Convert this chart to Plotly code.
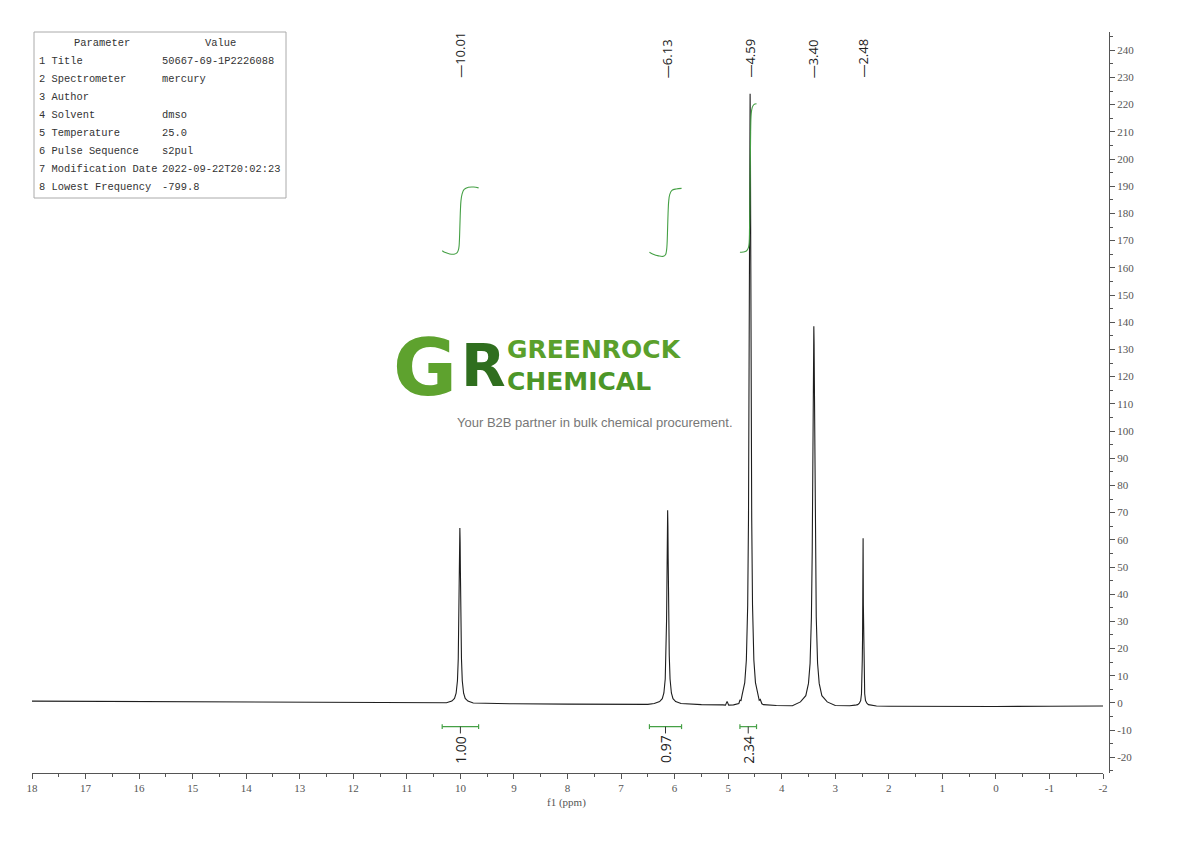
import plotly.graph_objects as go

# ---------------- data ----------------
ppm = [18.0, 17.0, 16.0, 15.0, 14.0, 13.0, 12.0, 11.0, 10.6,
       # 10.01
       10.26, 10.16, 10.11, 10.08, 10.055, 10.04, 10.03, 10.025, 10.02, 10.015, 10.01,
       10.005, 10.00, 9.995, 9.99, 9.98, 9.965, 9.94, 9.91, 9.86, 9.76,
       9.0, 8.0, 7.0, 6.5,
       # 6.13
       6.38, 6.28, 6.23, 6.20, 6.175, 6.16, 6.15, 6.145, 6.14, 6.135, 6.13,
       6.125, 6.12, 6.115, 6.11, 6.10, 6.085, 6.06, 6.03, 5.98, 5.88,
       5.5, 5.1, 5.05, 5.02, 4.99, 4.90,
       # 4.59
       4.84, 4.80, 4.78, 4.76, 4.74, 4.69, 4.66, 4.635, 4.62, 4.61, 4.605, 4.60, 4.595, 4.59,
       4.585, 4.58, 4.575, 4.57, 4.56, 4.545, 4.52, 4.49, 4.44, 4.42, 4.40, 4.37, 4.34,
       4.1,
       # 3.40
       3.80, 3.65, 3.55, 3.50, 3.47, 3.445, 3.43, 3.42, 3.415, 3.41, 3.405, 3.40,
       3.395, 3.39, 3.385, 3.38, 3.37, 3.355, 3.33, 3.30, 3.25, 3.15, 3.00,
       2.80,
       # 2.48
       2.73, 2.63, 2.58, 2.55, 2.525, 2.51, 2.50, 2.495, 2.49, 2.485, 2.48,
       2.475, 2.47, 2.465, 2.46, 2.45, 2.435, 2.41, 2.38, 2.33, 2.23,
       2.0, 1.0, 0.0, -1.0, -2.0]

intensity = [0.7, 0.6, 0.5, 0.4, 0.3, 0.2, 0.1, 0.0, -0.1,
             0.1, 0.7, 1.7, 3.6, 8.2, 16.3, 27.9, 37.0, 48.5, 59.5, 64.3,
             59.5, 48.5, 37.0, 27.9, 16.3, 8.2, 3.6, 1.7, 0.7, 0.0,
             -0.3, -0.4, -0.5, -0.5,
             -0.2, 0.5, 1.6, 3.7, 8.8, 17.6, 30.4, 40.4, 53.1, 65.2, 70.9,
             65.2, 53.1, 40.4, 30.4, 17.6, 8.8, 3.7, 1.6, 0.5, -0.2,
             -0.6, -0.7, -0.8, 0.6, -0.8, -0.7,
             -0.5, -0.2, 1.0, 0.9, 2.9, 7.5, 15.8, 36.0, 68.0, 111.0, 142.0, 178.0, 210.0, 224.0,
             210.0, 178.0, 142.0, 111.0, 68.0, 36.0, 15.8, 7.5, 2.7, 1.0, 1.3, -0.3, -0.6,
             -0.9,
             -1.0, 0.4, 2.7, 7.2, 14.6, 31.7, 55.8, 83.5, 100.8, 118.4, 132.2, 138.5,
             132.2, 118.4, 100.8, 83.5, 55.8, 31.7, 14.6, 7.2, 2.7, 0.4, -0.9,
             -1.0,
             -1.0, -0.8, -0.6, -0.1, 0.9, 3.4, 8.0, 16.0, 23.8, 36.0, 60.6,
             36.0, 23.8, 16.0, 8.0, 3.4, 0.9, -0.1, -0.6, -0.8, -1.1,
             -1.2, -1.3, -1.3, -1.2, -1.1]

peak_ppm = [10.01, 6.13, 4.59, 3.40, 2.48]
peak_labels = ["10.01", "6.13", "4.59", "3.40", "2.48"]

int_from = [10.34, 6.47, 4.78]
int_to = [9.66, 5.87, 4.47]
int_values = ["1.00", "0.97", "2.34"]

int1_ppm = [10.34, 10.28, 10.20, 10.12, 10.06, 10.03, 10.02, 10.01, 10.00, 9.99, 9.97, 9.93, 9.85, 9.75, 9.66]
int1_val = [166.3, 165.6, 165.1, 165.0, 165.6, 167.2, 169.5, 175.0, 181.0, 184.5, 187.0, 188.8, 189.6, 189.7, 189.4]
int2_ppm = [6.47, 6.40, 6.30, 6.22, 6.17, 6.15, 6.14, 6.13, 6.12, 6.11, 6.09, 6.05, 5.97, 5.87]
int2_val = [165.7, 165.0, 164.4, 164.2, 164.8, 166.5, 169.0, 175.0, 181.0, 184.5, 187.0, 188.5, 189.0, 189.2]
int3_ppm = [4.78, 4.72, 4.66, 4.62, 4.60, 4.59, 4.58, 4.57, 4.55, 4.52, 4.47]
int3_val = [165.7, 165.8, 166.2, 167.5, 175.0, 192.0, 210.0, 216.5, 219.0, 220.0, 220.3]

param_names = ["Title", "Spectrometer", "Author", "Solvent", "Temperature",
               "Pulse Sequence", "Modification Date", "Lowest Frequency"]
param_values = ["50667-69-1P2226088", "mercury", "", "dmso", "25.0",
                "s2pul", "2022-09-22T20:02:23", "-799.8"]

x_tick_vals = [18, 17, 16, 15, 14, 13, 12, 11, 10, 9, 8, 7, 6, 5, 4, 3, 2, 1, 0, -1, -2]
x_tick_text = ["18", "17", "16", "15", "14", "13", "12", "11", "10", "9", "8", "7", "6",
               "5", "4", "3", "2", "1", "0", "-1", "-2"]
y_tick_vals = [-20, -10, 0, 10, 20, 30, 40, 50, 60, 70, 80, 90, 100, 110, 120, 130,
               140, 150, 160, 170, 180, 190, 200, 210, 220, 230, 240]
y_tick_text = ["-20", "-10", "0", "10", "20", "30", "40", "50", "60", "70", "80", "90",
               "100", "110", "120", "130", "140", "150", "160", "170", "180", "190",
               "200", "210", "220", "230", "240"]

# ---------------- styling ----------------
OFF = 8                      # page body margin
W, H = 1182, 833
ML, MR, MT, MB = 24, 81, 24, 68
PW, PH = W - ML - MR, H - MT - MB
AX = "#555555"
GREEN = "#45a045"
SERIF = "Liberation Serif"
MONO = "Liberation Mono"
SANS = "Open Sans"


def pxx(p):
    return (p - OFF - ML) / PW


def pxy(p):
    return (H - MB - (p - OFF)) / PH


fig = go.Figure()

fig.add_trace(go.Scatter(x=ppm, y=intensity, mode="lines",
                         line=dict(color="#1e1e1e", width=1.1), hoverinfo="skip",
                         showlegend=False))

for xs, ys in [(int1_ppm, int1_val), (int2_ppm, int2_val), (int3_ppm, int3_val)]:
    fig.add_trace(go.Scatter(x=xs, y=ys, mode="lines", line=dict(color=GREEN, width=1.1, shape="spline"),
                             hoverinfo="skip", showlegend=False))

# integral bars
bar_y = -8.7
cap = 0.9
for a, b, lab in zip(int_from, int_to, int_values):
    mid = (a + b) / 2
    fig.add_trace(go.Scatter(x=[a, b], y=[bar_y, bar_y], mode="lines",
                             line=dict(color=GREEN, width=1.2), hoverinfo="skip", showlegend=False))
    for e in (a, b):
        fig.add_trace(go.Scatter(x=[e, e], y=[bar_y - cap, bar_y + cap], mode="lines",
                                 line=dict(color=GREEN, width=1.2), hoverinfo="skip", showlegend=False))
    fig.add_trace(go.Scatter(x=[mid, mid], y=[bar_y, bar_y - 2.5], mode="lines",
                             line=dict(color="#333333", width=1), hoverinfo="skip", showlegend=False))
    fig.add_annotation(x=mid, y=bar_y - 2.5, xref="x", yref="y", text=lab, textangle=-90,
                       showarrow=False, xanchor="center", yanchor="top",
                       font=dict(family=SANS, size=14, color="#222222"))

# peak labels
for p, lab in zip(peak_ppm, peak_labels):
    fig.add_annotation(x=p, y=pxy(80), xref="x", yref="paper", text="\u2014" + lab, textangle=-90,
                       showarrow=False, xanchor="center", yanchor="bottom",
                       font=dict(family=SANS, size=13, color="#222222"))

# parameter table
fig.add_shape(type="rect", xref="paper", yref="paper",
              x0=pxx(34), x1=pxx(286), y0=pxy(198), y1=pxy(32),
              line=dict(color="#aaaaaa", width=1), fillcolor="rgba(0,0,0,0)")
tfont = dict(family=MONO, size=10.4, color="#333333")
fig.add_annotation(x=pxx(102), y=pxy(43), xref="paper", yref="paper", text="Parameter",
                   showarrow=False, xanchor="center", yanchor="middle", font=tfont)
fig.add_annotation(x=pxx(220), y=pxy(43), xref="paper", yref="paper", text="Value",
                   showarrow=False, xanchor="center", yanchor="middle", font=tfont)
for i, (n, v) in enumerate(zip(param_names, param_values)):
    yy = pxy(61 + 18 * i)
    fig.add_annotation(x=pxx(37), y=yy, xref="paper", yref="paper", text=f"{i + 1} {n}",
                       showarrow=False, xanchor="left", yanchor="middle", font=tfont)
    if v:
        fig.add_annotation(x=pxx(160), y=yy, xref="paper", yref="paper", text=v,
                           showarrow=False, xanchor="left", yanchor="middle", font=tfont)

# logo / watermark
fig.add_annotation(x=pxx(458), y=pxy(368), xref="paper", yref="paper", text="<b>G</b>",
                   showarrow=False, xanchor="right", yanchor="middle", borderpad=0,
                   font=dict(family="DejaVu Sans", size=78, color="#5ea22e"))
fig.add_annotation(x=pxx(460), y=pxy(366), xref="paper", yref="paper", text="<b>R</b>",
                   showarrow=False, xanchor="left", yanchor="middle", borderpad=0,
                   font=dict(family="DejaVu Sans", size=58, color="#2f6e1e"))
fig.add_annotation(x=pxx(506), y=pxy(349), xref="paper", yref="paper", text="<b>GREENROCK</b>",
                   showarrow=False, xanchor="left", yanchor="middle", borderpad=0,
                   font=dict(family="DejaVu Sans", size=25, color="#5aa02c"))
fig.add_annotation(x=pxx(506), y=pxy(381), xref="paper", yref="paper", text="<b>CHEMICAL</b>",
                   showarrow=False, xanchor="left", yanchor="middle", borderpad=0,
                   font=dict(family="DejaVu Sans", size=25, color="#4c9628"))
fig.add_annotation(x=pxx(594.5), y=pxy(422), xref="paper", yref="paper",
                   text="Your B2B partner in bulk chemical procurement.",
                   showarrow=False, xanchor="center", yanchor="middle", borderpad=0,
                   font=dict(family="Liberation Sans", size=13, color="#777777"))

# x axis title
fig.add_annotation(x=pxx(566), y=pxy(802), xref="paper", yref="paper", text="f1 (ppm)",
                   showarrow=False, xanchor="center", yanchor="middle",
                   font=dict(family=SERIF, size=11, color=AX))

fig.update_layout(
    width=W, height=H, autosize=False,
    margin=dict(l=ML, r=MR, t=MT, b=MB, pad=0),
    paper_bgcolor="white", plot_bgcolor="white",
    showlegend=False,
    xaxis=dict(domain=[0, (1103 - OFF - ML) / PW], range=[18, -2], anchor="y",
               tickmode="array", tickvals=x_tick_vals, ticktext=x_tick_text,
               ticks="outside", ticklen=5, tickwidth=1, tickcolor=AX,
               showline=True, linecolor=AX, linewidth=1,
               minor=dict(tickmode="linear", tick0=0, dtick=0.5, ticks="outside",
                          ticklen=3, tickwidth=1, tickcolor=AX),
               tickfont=dict(family=SERIF, size=11, color=AX),
               showgrid=False, zeroline=False),
    yaxis=dict(anchor="free", position=1, side="right",
               range=[-25.74, 246.7],
               tickmode="array", tickvals=y_tick_vals, ticktext=y_tick_text,
               ticks="outside", ticklen=5, tickwidth=1, tickcolor=AX,
               showline=True, linecolor=AX, linewidth=1,
               minor=dict(tickmode="linear", tick0=0, dtick=5, ticks="outside",
                          ticklen=3, tickwidth=1, tickcolor=AX),
               tickfont=dict(family=SERIF, size=11, color=AX),
               showgrid=False, zeroline=False),
)

fig.write_html("out.html")
